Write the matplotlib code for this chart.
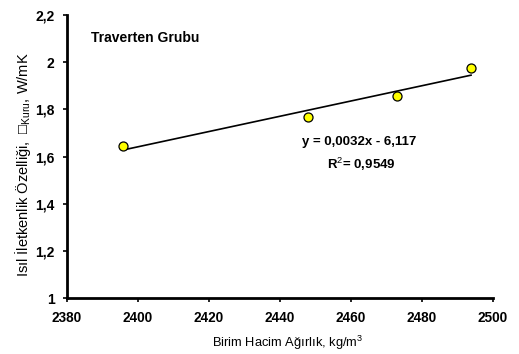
import numpy as np
import matplotlib
matplotlib.use("Agg")
from matplotlib import pyplot as plt

plt.rcParams['font.family'] = ['Liberation Sans', 'DejaVu Sans']
plt.rcParams['mathtext.fontset'] = 'custom'
plt.rcParams['mathtext.rm'] = 'Liberation Sans'

# Traverten grubu: birim hacim ağırlık - ısıl iletkenlik
yogunluk = [2395.7, 2447.8, 2472.9, 2493.8]
iletkenlik = [1.646, 1.767, 1.856, 1.977]

x_ticks = [2380, 2400, 2420, 2440, 2460, 2480, 2500]
y_ticks = [1.0, 1.2, 1.4, 1.6, 1.8, 2.0, 2.2]
y_tick_labels = ["1", "1,2", "1,4", "1,6", "1,8", "2", "2,2"]

# doğrusal trend
a, b = np.polyfit(yogunluk, iletkenlik, 1)
xs = np.array([min(yogunluk), max(yogunluk)])

fig = plt.figure(figsize=(5.19, 3.54), dpi=100)
ax = fig.add_axes([0.129, 0.157, 0.821, 0.801])

ax.plot(xs, a * xs + b, color='black', linewidth=1.2, zorder=2)
ax.plot(yogunluk, iletkenlik, 'o', markersize=6.5, markerfacecolor='#ffff00',
        markeredgecolor='black', markeredgewidth=0.9, zorder=3)

ax.set_xlim(2380, 2500)
ax.set_ylim(1.0, 2.2)
ax.set_xticks(x_ticks)
ax.set_xticklabels([str(t) for t in x_ticks], fontweight='bold', fontsize=9.8)
ax.set_yticks(y_ticks)
ax.set_yticklabels(y_tick_labels, fontweight='bold', fontsize=10)
ax.tick_params(direction='out', length=3, width=1.2, pad=6)

for side in ['top', 'right']:
    ax.spines[side].set_visible(False)
for side in ['left', 'bottom']:
    ax.spines[side].set_linewidth(2)

ax.text(2386.8, 2.10, "Traverten Grubu", fontweight='bold', fontsize=10,
        va='center')
ax.text(2462.3, 1.662, "y = 0,0032x - 6,117", fontweight='bold', fontsize=9.5,
        ha='center', va='center')
ax.text(2463, 1.569, r"R$^{2}$= 0,9549", fontweight='bold', fontsize=9.5,
        ha='center', va='center')

fig.text(0.555, 0.03, r"Birim Hacim Ağırlık, kg/m$^{3}$", fontsize=9.3,
         ha='center', va='center')
fig.text(0.045, 0.534, "Isıl İletkenlik Özelliği,  \u25a1$_{\\mathrm{Kuru}}$, W/mK",
         fontsize=10.5, ha='center', va='center', rotation=90)

plt.savefig("out.png", dpi=100)
